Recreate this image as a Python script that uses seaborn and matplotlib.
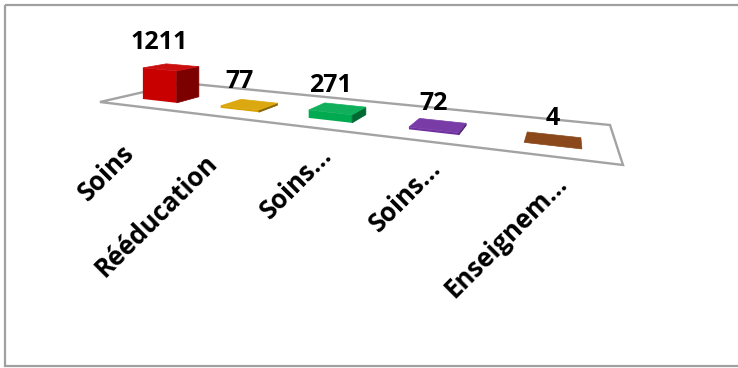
import numpy as np
import pandas as pd
import matplotlib
matplotlib.use("Agg")
import matplotlib.pyplot as plt
import matplotlib.transforms as mtransforms
from matplotlib.patches import Polygon, Rectangle
import seaborn as sns

# ---- data -------------------------------------------------------------
labels = ["Soins", "Rééducation", "Soins…", "Soins…", "Enseignem…"]
values = [1211, 77, 271, 72, 4]
colors = ["#C80000", "#DAA200", "#00AA50", "#7030A0", "#843C0C"]

# ---- 3D perspective set-up (pixel space of the figure) -----------------
W, H = 738, 368
floor_corners = {  # front-left, front-right, back-right, back-left
    "fl": (100, 102), "fr": (623, 165), "br": (610, 125), "bl": (183, 83),
}
Z_SCALE = 0.0266          # pixels per unit of value at unit depth
BAR_DEPTH = (0.24, 0.52)  # front / back of the bars across the floor depth
BAR_WIDTH = 0.45          # bar width in category units


def square_to_quad(p0, p1, p2, p3):
    (x0, y0), (x1, y1), (x2, y2), (x3, y3) = p0, p1, p2, p3
    dx1, dx2, dx3 = x1 - x2, x3 - x2, x0 - x1 + x2 - x3
    dy1, dy2, dy3 = y1 - y2, y3 - y2, y0 - y1 + y2 - y3
    det = dx1 * dy2 - dx2 * dy1
    g = (dx3 * dy2 - dx2 * dy3) / det
    h = (dx1 * dy3 - dx3 * dy1) / det
    a = x1 - x0 + g * x1
    b = x3 - x0 + h * x3
    d = y1 - y0 + g * y1
    e = y3 - y0 + h * y3
    return a, b, x0, d, e, y0, g, h


HA, HB, HC, HD, HE, HF, HG, HH = square_to_quad(
    floor_corners["fl"], floor_corners["fr"],
    floor_corners["br"], floor_corners["bl"])


def project(u, v, z):
    u = np.asarray(u, float)
    v = np.asarray(v, float)
    z = np.asarray(z, float)
    den = HG * u + HH * v + 1.0
    px = (HA * u + HB * v + HC) / den
    py = (HD * u + HE * v + HF - Z_SCALE * z) / den
    return px, py


class FrontFace(mtransforms.Transform):
    """Maps (category position, value) onto the front plane of the bars."""
    input_dims = 2
    output_dims = 2
    is_separable = False
    has_inverse = False

    def __init__(self, v, n):
        super().__init__()
        self.v = v
        self.n = n

    def transform_non_affine(self, values):
        values = np.asarray(values, float)
        u = (values[:, 0] + 0.5) / self.n
        px, py = project(u, np.full_like(u, self.v), values[:, 1])
        return np.column_stack([px, py])


def shade(color, factor):
    rgb = np.array(matplotlib.colors.to_rgb(color))
    if factor >= 1:
        rgb = rgb + (1 - rgb) * (factor - 1)
    else:
        rgb = rgb * factor
    return tuple(np.clip(rgb, 0, 1))


def signed_area(pts):
    x, y = pts[:, 0], pts[:, 1]
    return 0.5 * np.sum(x * np.roll(y, -1) - np.roll(x, -1) * y)


# ---- figure -------------------------------------------------------------
sns.set_theme(style="white")
plt.rcParams["font.family"] = ["Open Sans", "DejaVu Sans"]

fig = plt.figure(figsize=(W / 100, H / 100), dpi=100)
ax = fig.add_axes([0, 0, 1, 1])

n = len(values)
df = pd.DataFrame({"rang": [str(i) for i in range(n)], "effectif": values})
sns.barplot(data=df, x="rang", y="effectif", hue="rang", palette=colors,
            saturation=1, width=BAR_WIDTH, linewidth=0, errorbar=None,
            legend=False, ax=ax)
bars = sorted(ax.patches, key=lambda p: p.get_x())

ax.set_xlim(0, W)
ax.set_ylim(H, 0)
ax.axis("off")

# floor of the 3D chart
fu = np.array([0, 1, 1, 0])
fv = np.array([0, 0, 1, 1])
fx, fy = project(fu, fv, np.zeros(4))
ax.add_patch(Polygon(np.column_stack([fx, fy]), closed=True, facecolor="white",
                     edgecolor="#A3A3A3", linewidth=1.7, zorder=1))

v0, v1 = BAR_DEPTH
faces = {
    "right": [(1, 0, 0), (1, 1, 0), (1, 1, 1), (1, 0, 1)],
    "top": [(0, 0, 1), (1, 0, 1), (1, 1, 1), (0, 1, 1)],
    "left": [(0, 1, 0), (0, 0, 0), (0, 0, 1), (0, 1, 1)],
}
for bar, col, val in zip(bars, colors, values):
    x0, w, h = bar.get_x(), bar.get_width(), bar.get_height()
    us = ((x0 + 0.5) / n, (x0 + w + 0.5) / n)
    vs = (v0, v1)
    zs = (0.0, h)

    # the seaborn rectangle becomes the front face
    bar.set_transform(FrontFace(v0, n) + ax.transData)
    bar.set_zorder(3)

    polys = {}
    for name, idx in faces.items():
        pts = np.array([project(us[i], vs[j], zs[k]) for i, j, k in idx])
        polys[name] = pts
    ref = np.sign(signed_area(polys["top"]))
    for name, pts in polys.items():
        if name != "top" and np.sign(signed_area(pts)) != ref:
            continue
        fc = shade(col, 1.06) if name == "top" else shade(col, 0.62)
        ax.add_patch(Polygon(pts, closed=True, facecolor=fc, edgecolor=fc,
                             linewidth=0.5, zorder=3))

    # value label above the front top edge
    lx, ly = project((us[0] + us[1]) / 2, v0, h)
    ax.annotate(f"{val}", (float(lx), float(ly)), xytext=(0, 14.5),
                textcoords="offset points", ha="center", va="baseline",
                fontsize=18, fontweight="bold", color="black", zorder=5)

# category labels under the floor, rotated 45 degrees
for i, lab in enumerate(labels):
    tx, ty = project((i + 0.5) / n, 0.0, 0.0)
    if lab.endswith("…"):
        off = (12.3, -20.4)
    else:
        off = (-1.4, -34.2)
    ax.annotate(lab, (float(tx), float(ty)), xytext=off,
                textcoords="offset points", rotation=45,
                rotation_mode="anchor", ha="right", va="baseline",
                fontsize=18.5, fontweight="bold", color="black", zorder=5)

# outer frame of the chart area (its right side runs off the canvas)
ax.add_patch(Rectangle((5, 5), W + 30, H - 7, fill=False, edgecolor="#A0A0A0",
                       linewidth=1.6, zorder=6, clip_on=False))

fig.savefig("out.png", dpi=100)
